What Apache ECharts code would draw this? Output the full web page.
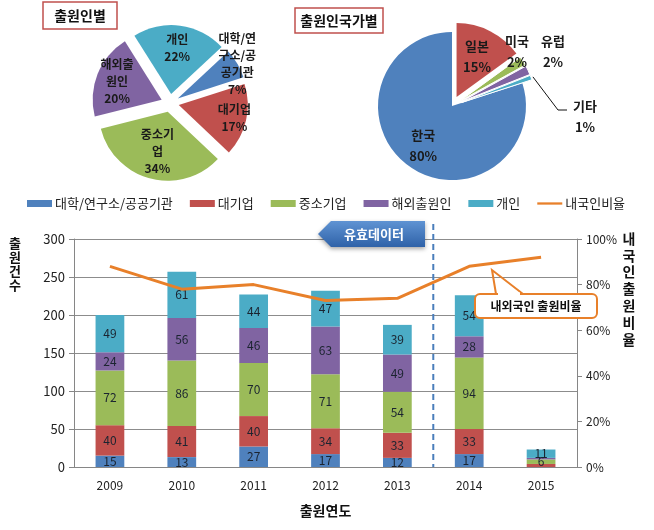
<!DOCTYPE html>
<html><head><meta charset="utf-8">
<script src="https://cdn.jsdelivr.net/npm/echarts@6/dist/echarts.min.js"></script>
<style>html,body{margin:0;padding:0;background:#fff}#c{width:654px;height:530px}</style>
</head><body><div id="c"></div>
<script>
// ---- data ----
const years = ['2009','2010','2011','2012','2013','2014','2015'];
const univ = [15, 13, 27, 17, 12, 17, 0];
const largeCorp = [40, 41, 40, 34, 33, 33, 4];
const smeCorp = [72, 86, 70, 71, 54, 94, 6];
const foreignApp = [24, 56, 46, 63, 49, 28, 2];
const individual = [49, 61, 44, 47, 39, 54, 11];
const domesticRatio = [88, 78, 80, 73, 74, 88, 92];
const seriesNames = ['대학/연구소/공공기관','대기업','중소기업','해외출원인','개인','내국인비율'];

const applicantTypes = ['대학/연구소/공공기관','대기업','중소기업','해외출원인','개인'];
const applicantLabels = ['대학/연\n구소/공\n공기관','대기업','중소기\n업','해외출\n원인','개인'];
const applicantShares = [7, 17, 34, 20, 22];

const countries = ['한국','일본','미국','유럽','기타'];
const countryShares = [80, 15, 2, 2, 1];

const leftTicks = [0, 300, 50];
const rightTicks = [0, 100, 20];

// ---- styles / layout ----
const FONT = '"Noto Sans CJK KR","Noto Sans",sans-serif';
const C = ['#4F81BD','#C0504D','#9BBB59','#8064A2','#4BACC6'];
const ORANGE = '#E8802A';
const barSets = [univ, largeCorp, smeCorp, foreignApp, individual];

const leftPie = { center: [170, 103], radius: 69, startCW: 47, offset: 9, labelDist: [78, 66, 50, 57, 56] };
const rightPie = { center: [452, 106], radius: 74, startCW: 72, offset: 10, labelDist: [49, 55] };

function bisectors(shares, startCW) {
  const total = shares.reduce((a, b) => a + b, 0);
  let cum = 0;
  return shares.map(v => { const a = startCW + (cum + v / 2) / total * 360; cum += v; return a; });
}
function polar(center, deg, r) {
  const t = deg * Math.PI / 180;
  return [center[0] + r * Math.sin(t), center[1] - r * Math.cos(t)];
}

const chart = echarts.init(document.getElementById('c'));

const series = barSets.map((d, i) => ({
  name: seriesNames[i], type: 'bar', stack: 'total', barWidth: '40%',
  itemStyle: { color: C[i] }, data: d,
  label: { show: true, position: 'inside', fontFamily: FONT, fontSize: 12, color: '#1b2430',
    formatter: p => (p.value >= 5 ? p.value : '') }
}));
series.push({
  name: seriesNames[5], type: 'line', yAxisIndex: 1, data: domesticRatio,
  showSymbol: false, symbol: 'none', lineStyle: { color: ORANGE, width: 3 }, itemStyle: { color: ORANGE }, z: 5
});
series.push({
  type: 'pie', center: leftPie.center, radius: leftPie.radius, startAngle: 90 - leftPie.startCW, clockwise: true,
  selectedMode: 'multiple', selectedOffset: leftPie.offset, silent: true,
  data: applicantTypes.map((n, i) => ({ name: n, value: applicantShares[i], selected: true, itemStyle: { color: C[i] } })),
  label: { show: false }, labelLine: { show: false }
});
series.push({
  type: 'pie', center: rightPie.center, radius: rightPie.radius, startAngle: 90 - rightPie.startCW, clockwise: true,
  selectedMode: 'multiple', selectedOffset: rightPie.offset, silent: true,
  data: countries.map((n, i) => ({
    name: n, value: countryShares[i], selected: i > 0,
    itemStyle: { color: C[i], borderColor: '#fff', borderWidth: i > 1 ? 1 : 0 }
  })),
  label: { show: false }, labelLine: { show: false }
});

chart.setOption({
  animation: false,
  textStyle: { fontFamily: FONT },
  legend: {
    top: 192, left: 22, itemGap: 17, itemWidth: 25, itemHeight: 7,
    textStyle: { fontFamily: FONT, fontSize: 13, color: '#222', padding: [0, 0, 0, -2] },
    data: seriesNames.slice(0, 5).map(n => ({ name: n, icon: 'rect' }))
      .concat([{ name: seriesNames[5], icon: 'path://M0,0 L12,0 L12,1.1 L0,1.1 Z' }])
  },
  grid: { left: 74, right: 77, top: 239, bottom: 63 },
  xAxis: {
    type: 'category', data: years,
    axisLine: { lineStyle: { color: '#868686' } },
    axisTick: { length: 5, lineStyle: { color: '#868686' } },
    axisLabel: { fontFamily: FONT, fontSize: 12, color: '#222', margin: 12 },
    name: '출원연도', nameLocation: 'middle', nameGap: 37,
    nameTextStyle: { fontFamily: FONT, fontSize: 14, fontWeight: 'bold', color: '#111' }
  },
  yAxis: [{
    type: 'value', min: leftTicks[0], max: leftTicks[1], interval: leftTicks[2],
    axisLine: { show: true, lineStyle: { color: '#868686' } },
    axisTick: { show: true, length: 5, lineStyle: { color: '#868686' } },
    axisLabel: { fontFamily: FONT, fontSize: 13, color: '#222', margin: 9 },
    splitLine: { lineStyle: { color: '#8c8c8c' } }
  }, {
    type: 'value', min: rightTicks[0], max: rightTicks[1], interval: rightTicks[2],
    axisLine: { show: true, lineStyle: { color: '#868686' } },
    axisTick: { show: true, length: 5, lineStyle: { color: '#868686' } },
    axisLabel: { fontFamily: FONT, fontSize: 12, color: '#222', margin: 9, formatter: '{value}%' },
    splitLine: { show: false }
  }],
  series: series
});

// ---- pie labels (positions derived from slice angles) ----
const labelGraphics = [];
const lb = bisectors(applicantShares, leftPie.startCW);
applicantShares.forEach((v, i) => {
  const p = polar(leftPie.center, lb[i], leftPie.labelDist[i]);
  labelGraphics.push({ type: 'text', z: 20, x: p[0], y: p[1], style: {
    text: applicantLabels[i] + '\n' + v + '%', fontFamily: FONT, fontSize: 12, fontWeight: 'bold',
    lineHeight: 17, fill: '#1a1a1a', align: 'center', verticalAlign: 'middle' } });
});
const rb = bisectors(countryShares, rightPie.startCW);
[0, 1].forEach(i => {
  const p = polar(rightPie.center, rb[i], rightPie.labelDist[i]);
  labelGraphics.push({ type: 'text', z: 20, x: p[0], y: p[1], style: {
    text: countries[i] + '\n' + countryShares[i] + '%', fontFamily: FONT, fontSize: 13, fontWeight: 'bold',
    lineHeight: 21, fill: '#1a1a1a', align: 'center', verticalAlign: 'middle' } });
});
const smallLabelPos = { 2: [517, 52], 3: [553, 52], 4: [585, 117] };
[2, 3, 4].forEach(i => {
  labelGraphics.push({ type: 'text', z: 20, x: smallLabelPos[i][0], y: smallLabelPos[i][1], style: {
    text: countries[i] + '\n' + countryShares[i] + '%', fontFamily: FONT, fontSize: 13, fontWeight: 'bold',
    lineHeight: 21, fill: '#1a1a1a', align: 'center', verticalAlign: 'middle' } });
});
const leadStart = polar(rightPie.center, rb[4], rightPie.radius + rightPie.offset + 2);
labelGraphics.push({ type: 'polyline', z: 20, shape: { points: [leadStart, [558, 110], [567, 110]] },
  style: { stroke: '#111', lineWidth: 1, fill: null } });

// ---- annotations ----
const x13 = chart.convertToPixel({ xAxisIndex: 0 }, '2013');
const x14 = chart.convertToPixel({ xAxisIndex: 0 }, '2014');
const xDiv = (x13 + x14) / 2;
const yBase = chart.convertToPixel({ yAxisIndex: 0 }, 0);

chart.setOption({
  graphic: labelGraphics.concat([
    { type: 'rect', shape: { x: 43, y: 2, width: 74, height: 27 }, style: { fill: '#fff', stroke: '#C0504D', lineWidth: 1.5 } },
    { type: 'text', x: 80, y: 16, style: { text: '출원인별', fontFamily: FONT, fontSize: 14, fontWeight: 'bold', fill: '#111', align: 'center', verticalAlign: 'middle' } },
    { type: 'rect', shape: { x: 295, y: 8, width: 88, height: 25 }, style: { fill: '#fff', stroke: '#C0504D', lineWidth: 1.5 } },
    { type: 'text', x: 339, y: 21, style: { text: '출원인국가별', fontFamily: FONT, fontSize: 14, fontWeight: 'bold', fill: '#111', align: 'center', verticalAlign: 'middle' } },
    { type: 'text', x: 15, y: 236, style: { text: '출\n원\n건\n수', fontFamily: FONT, fontSize: 13, fontWeight: 'bold', lineHeight: 14, fill: '#111', align: 'center', verticalAlign: 'top' } },
    { type: 'text', x: 629, y: 230, style: { text: '내\n국\n인\n출\n원\n비\n율', fontFamily: FONT, fontSize: 14, fontWeight: 'bold', lineHeight: 16.8, fill: '#111', align: 'center', verticalAlign: 'top' } },
    { type: 'line', z: 10, shape: { x1: xDiv, y1: 224, x2: xDiv, y2: yBase }, style: { stroke: '#4A7EBB', lineWidth: 2, lineDash: [6, 4] } },
    { type: 'polygon', z: 10, shape: { points: [[318, 234], [331, 221], [425, 221], [425, 247], [331, 247]] },
      style: { fill: new echarts.graphic.LinearGradient(0, 0, 0, 1, [{ offset: 0, color: '#5F93D3' }, { offset: 1, color: '#2F62A8' }]), shadowBlur: 4, shadowColor: 'rgba(0,0,0,0.35)', shadowOffsetY: 2 } },
    { type: 'text', z: 11, x: 374, y: 234, style: { text: '유효데이터', fontFamily: FONT, fontSize: 13, fontWeight: 'bold', fill: '#fff', align: 'center', verticalAlign: 'middle' } },
    { type: 'rect', z: 10, shape: { x: 475, y: 294, width: 122, height: 24, r: 5 }, style: { fill: '#fff', stroke: ORANGE, lineWidth: 2 } },
    { type: 'polyline', z: 11, shape: { points: [[496, 294], [492, 270], [523, 294]] }, style: { stroke: ORANGE, lineWidth: 2, fill: null } },
    { type: 'line', z: 11, shape: { x1: 498, y1: 294, x2: 520, y2: 294 }, style: { stroke: '#fff', lineWidth: 3 } },
    { type: 'text', z: 12, x: 536, y: 306, style: { text: '내외국인 출원비율', fontFamily: FONT, fontSize: 12, fontWeight: 'bold', fill: '#111', align: 'center', verticalAlign: 'middle' } }
  ])
});
</script></body></html>
